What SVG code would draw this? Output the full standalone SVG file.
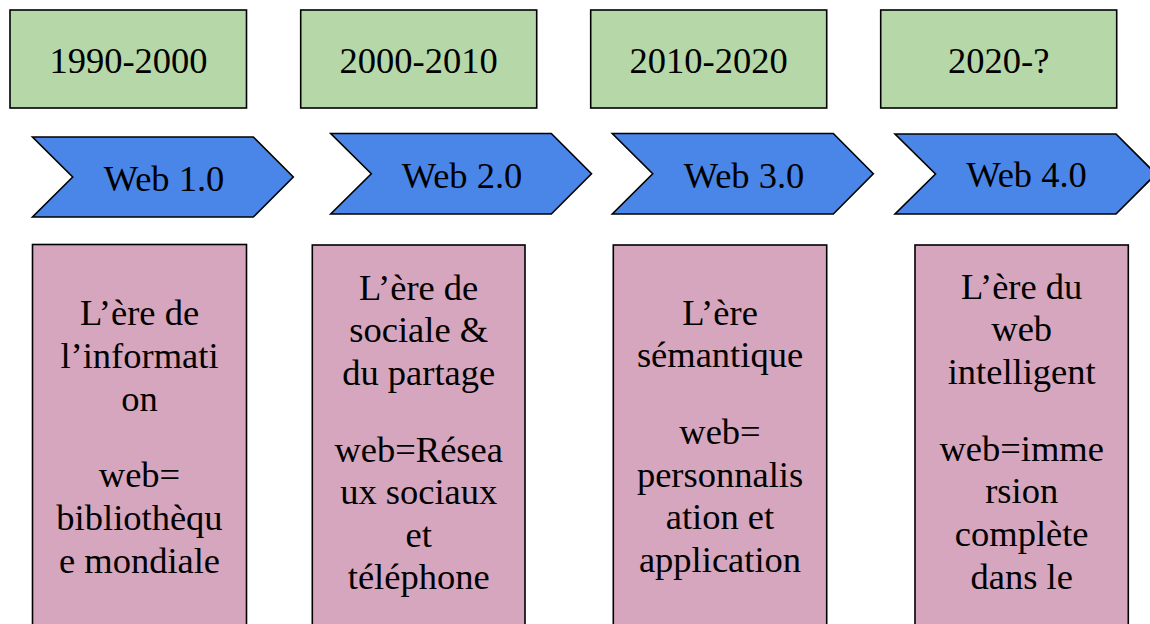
<svg xmlns="http://www.w3.org/2000/svg" width="1150" height="624" viewBox="0 0 1150 624">
<style>
.yr{fill:#b6d7a8;stroke:#000;stroke-width:1.6}
.chev{fill:#4a86e8;stroke:#000;stroke-width:1.6;stroke-linejoin:miter}
.card{fill:#d5a6bd;stroke:#000;stroke-width:1.6}
text{font-family:"Liberation Serif","Times New Roman",serif;font-size:36.5px;fill:#000;text-anchor:middle}
</style>
<rect width="1150" height="624" fill="#fff"/>
<g id="connectors"></g>
<g id="year1"><rect class="yr" x="10" y="10" width="236.5" height="98"/><text x="128.5" y="73">1990-2000</text></g>
<g id="year2"><rect class="yr" x="300.7" y="10" width="236" height="98"/><text x="418.7" y="73">2000-2010</text></g>
<g id="year3"><rect class="yr" x="590.7" y="10" width="236" height="98"/><text x="708.7" y="73">2010-2020</text></g>
<g id="year4"><rect class="yr" x="880.7" y="10" width="236" height="98"/><text x="998.7" y="73">2020-?</text></g>

<g id="web1"><polygon class="chev" points="32.5,137 253.3,137 293.3,177 253.3,217 32.5,217 72.7,177"/><text x="164" y="190.5">Web 1.0</text></g>
<g id="web2"><polygon class="chev" points="330.7,133.5 551.3,133.5 591.5,173.7 551.3,214 330.7,214 371.3,173.7"/><text x="462" y="188.3">Web 2.0</text></g>
<g id="web3"><polygon class="chev" points="612.3,133.5 833.3,133.5 873.3,173.7 833.3,214 612.3,214 652.7,173.7"/><text x="744" y="188.3">Web 3.0</text></g>
<g id="web4"><polygon class="chev" points="895,134 1116,134 1156,174 1116,214 895,214 935.5,174"/><text x="1026.5" y="186.7">Web 4.0</text></g>

<g id="card1"><rect class="card" x="32.5" y="244.5" width="214" height="400"/>
<text x="139.5"><tspan x="139.5" y="325">L’ère de</tspan><tspan x="139.5" y="368">l’informati</tspan><tspan x="139.5" y="410.5">on</tspan><tspan x="139.5" y="487">web=</tspan><tspan x="139.5" y="530">bibliothèqu</tspan><tspan x="139.5" y="573">e mondiale</tspan></text></g>
<g id="card2"><rect class="card" x="312.3" y="245" width="212.7" height="400"/>
<text x="418.7"><tspan x="418.7" y="300">L’ère de</tspan><tspan x="418.7" y="342">sociale &amp;</tspan><tspan x="418.7" y="385">du partage</tspan><tspan x="418.7" y="461.7">web=Résea</tspan><tspan x="418.7" y="503.5">ux sociaux</tspan><tspan x="418.7" y="546.5">et</tspan><tspan x="418.7" y="588.5">téléphone</tspan></text></g>
<g id="card3"><rect class="card" x="613.3" y="245" width="213.4" height="400"/>
<text x="720"><tspan x="720" y="325">L’ère</tspan><tspan x="720" y="367">sémantique</tspan><tspan x="720" y="443.5">web=</tspan><tspan x="720" y="486.7">personnalis</tspan><tspan x="720" y="528.5">ation et</tspan><tspan x="720" y="571.7">application</tspan></text></g>
<g id="card4"><rect class="card" x="915" y="245" width="213.3" height="400"/>
<text x="1021.7"><tspan x="1021.7" y="298.5">L’ère du</tspan><tspan x="1021.7" y="341">web</tspan><tspan x="1021.7" y="384">intelligent</tspan><tspan x="1021.7" y="460.5">web=imme</tspan><tspan x="1021.7" y="503">rsion</tspan><tspan x="1021.7" y="546">complète</tspan><tspan x="1021.7" y="589">dans le</tspan></text></g>
</svg>
